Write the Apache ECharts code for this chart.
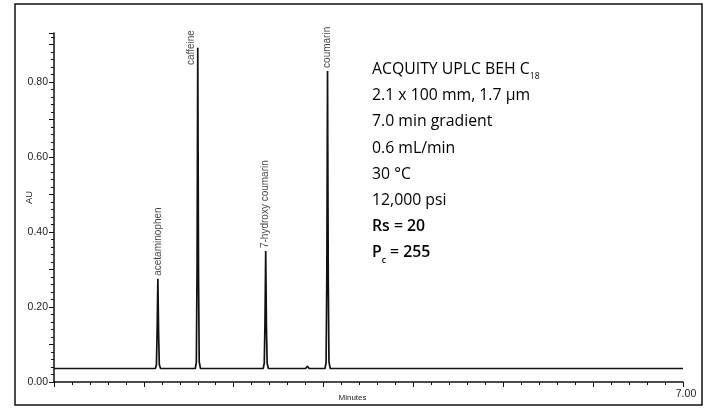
<!DOCTYPE html>
<html>
<head>
<meta charset="utf-8">
<style>html,body{margin:0;padding:0;background:#fff;}#chart{width:704px;height:408px;}</style>
<script src="https://cdn.jsdelivr.net/npm/echarts@6/dist/echarts.min.js"></script>
</head>
<body>
<div id="chart"></div>
<script>
// ---- data ----
const peakNames   = ['acetaminophen', 'caffeine', '7-hydroxy coumarin', 'coumarin'];
const peakTimes   = [1.156, 1.600, 2.356, 3.044];
const peakHeights = [0.275, 0.891, 0.349, 0.829];

const traceTimes = [
  0, 1.128, 1.140, 1.148, 1.156, 1.164, 1.172, 1.186,
  1.572, 1.584, 1.592, 1.600, 1.608, 1.616, 1.630,
  2.328, 2.340, 2.348, 2.356, 2.364, 2.372, 2.386,
  2.800, 2.820, 2.840,
  3.016, 3.028, 3.036, 3.044, 3.052, 3.060, 3.074,
  7.0
];
const traceValues = [
  0.036, 0.036, 0.046, 0.140, 0.275, 0.130, 0.046, 0.036,
  0.036, 0.052, 0.300, 0.891, 0.300, 0.054, 0.036,
  0.036, 0.050, 0.160, 0.349, 0.150, 0.050, 0.036,
  0.036, 0.042, 0.036,
  0.036, 0.052, 0.280, 0.829, 0.280, 0.054, 0.036,
  0.036
];

const yTickLabels = ['0.00', '0.20', '0.40', '0.60', '0.80'];
const xTickLabels = ['7.00'];
const infoLines = [
  [{t: 'ACQUITY UPLC BEH C', s: 'n'}, {t: '18', s: 'sub'}],
  [{t: '2.1 x 100 mm, 1.7 \u00b5m', s: 'n'}],
  [{t: '7.0 min gradient', s: 'n'}],
  [{t: '0.6 mL/min', s: 'n'}],
  [{t: '30 \u00b0C', s: 'n'}],
  [{t: '12,000 psi', s: 'n'}],
  [{t: 'Rs = 20', s: 'b'}],
  [{t: 'P', s: 'b'}, {t: 'c', s: 'bsub'}, {t: ' = 255', s: 'b'}]
];

// ---- chart ----
const chart = echarts.init(document.getElementById('chart'), null, {renderer: 'canvas'});
const ink = '#111';

const traceData = traceTimes.map((t, i) => [t, traceValues[i]]);
const labelData = peakNames.map((n, i) => {
  const item = {name: n, value: [peakTimes[i], peakHeights[i]]};
  if (n === 'caffeine') {
    item.label = {position: 'left', distance: 7, align: 'center', verticalAlign: 'middle'};
  }
  return item;
});

const infoGraphics = infoLines.map((parts, i) => ({
  type: 'text',
  left: 372,
  top: 61.5 + i * 26.2,
  style: {
    text: parts.map(p => '{' + p.s + '|' + p.t + '}').join(''),
    rich: {
      n:    {fontFamily: 'Open Sans', fontSize: 15.8, color: '#161616', lineHeight: 19, verticalAlign: 'top'},
      sub:  {fontFamily: 'Open Sans', fontSize: 8.5, color: '#161616', lineHeight: 20, verticalAlign: 'bottom'},
      b:    {fontFamily: 'Open Sans', fontSize: 15.8, fontWeight: 600, color: '#161616', lineHeight: 19, verticalAlign: 'top'},
      bsub: {fontFamily: 'Open Sans', fontSize: 8.5, fontWeight: 600, color: '#161616', lineHeight: 20, verticalAlign: 'bottom'}
    }
  }
}));

const option = {
  animation: false,
  backgroundColor: '#fff',
  grid: {left: 54, right: 21, top: 33, bottom: 26, containLabel: false, outerBoundsMode: 'none'},
  xAxis: {
    type: 'value', min: 0, max: 7, interval: 1,
    name: 'Minutes', nameLocation: 'middle', nameGap: 12, nameMoveOverlap: false,
    nameTextStyle: {fontFamily: 'Liberation Sans', fontSize: 8, color: '#222', padding: [0, 32, 0, 0]},
    axisLine: {show: true, onZero: false, lineStyle: {color: ink, width: 1.5}},
    axisTick: {show: true, inside: false, length: 5, lineStyle: {color: ink, width: 1}},
    minorTick: {show: true, splitNumber: 5, length: 3, lineStyle: {color: ink, width: 1}},
    splitLine: {show: false},
    axisLabel: {
      show: true, margin: 7, showMaxLabel: true,
      fontFamily: 'Liberation Sans', fontSize: 10.5, color: '#222', padding: [0, 0, 0, 6],
      formatter: v => {
        const s = v.toFixed(2);
        return xTickLabels.indexOf(s) >= 0 ? s : '';
      }
    }
  },
  yAxis: {
    type: 'value', min: 0, max: 0.93, interval: 0.1,
    name: 'AU', nameLocation: 'middle', nameGap: 20, nameMoveOverlap: false,
    nameTextStyle: {fontFamily: 'Liberation Sans', fontSize: 9.5, color: '#222', padding: [0, 0, 0, 20]},
    axisLine: {show: true, lineStyle: {color: ink, width: 1.5}},
    axisTick: {show: true, inside: false, length: 5, lineStyle: {color: ink, width: 1}},
    minorTick: {show: true, splitNumber: 5, length: 3, lineStyle: {color: ink, width: 1}},
    splitLine: {show: false},
    axisLabel: {
      show: true, margin: 6,
      fontFamily: 'Liberation Sans', fontSize: 10.5, color: '#222',
      formatter: v => {
        const s = v.toFixed(2);
        return yTickLabels.indexOf(s) >= 0 ? s : '';
      }
    }
  },
  series: [
    {
      name: 'trace', type: 'line', data: traceData,
      symbol: 'none', showSymbol: false, smooth: false,
      lineStyle: {color: ink, width: 1.7},
      silent: true, z: 3
    },
    {
      name: 'peaks', type: 'scatter', data: labelData,
      symbolSize: 0, silent: true, z: 4,
      label: {
        show: true, formatter: p => p.name,
        position: 'top', distance: 3, rotate: 90,
        align: 'left', verticalAlign: 'middle',
        fontFamily: 'Liberation Sans', fontSize: 10, color: '#111'
      }
    }
  ],
  graphic: [
    {
      type: 'rect', silent: true,
      shape: {x: 15, y: 4, width: 687, height: 401},
      style: {fill: 'none', stroke: ink, lineWidth: 1.5}
    }
  ].concat(infoGraphics)
};
chart.setOption(option);
</script>
</body>
</html>
